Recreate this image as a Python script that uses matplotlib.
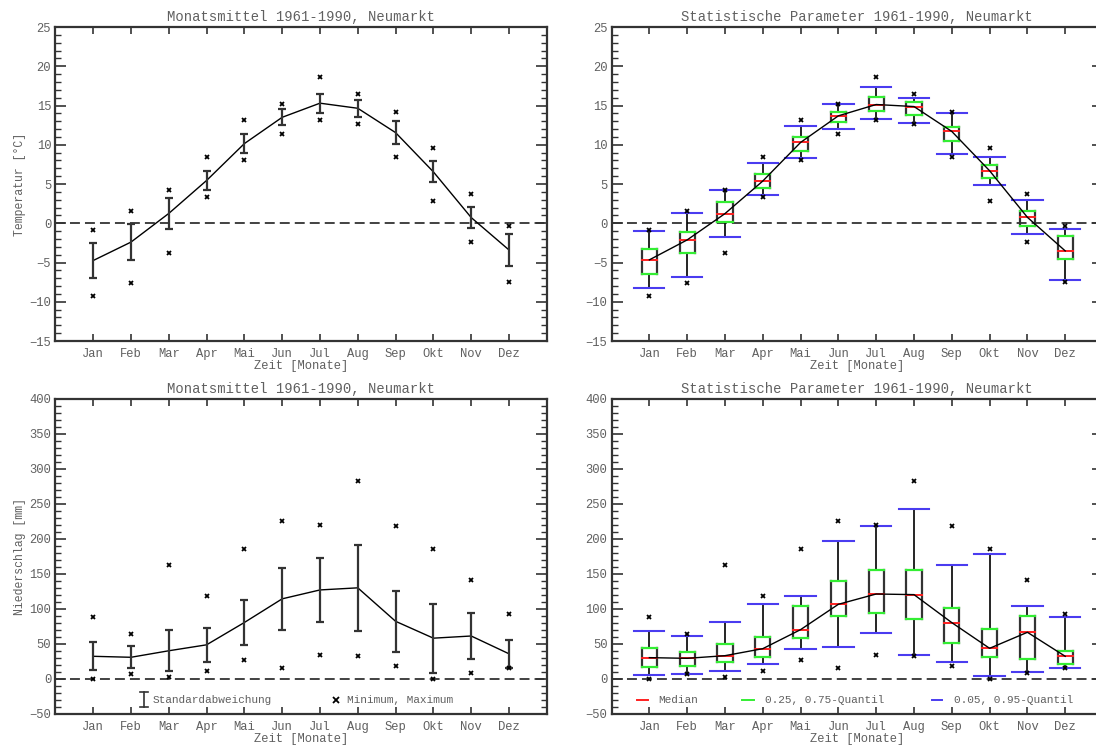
import numpy as np
import matplotlib
matplotlib.use('Agg')
import matplotlib.pyplot as plt
from matplotlib.ticker import MultipleLocator

plt.rcParams['font.family'] = ['Liberation Mono', 'DejaVu Sans Mono']

# Monthly statistics 1961-1990, station Neumarkt
months = ['Jan', 'Feb', 'Mar', 'Apr', 'Mai', 'Jun', 'Jul', 'Aug', 'Sep', 'Okt', 'Nov', 'Dez']

# Temperature [°C]
tempMean = [-4.75, -2.4, 1.25, 5.45, 10.15, 13.5, 15.3, 14.65, 11.55, 6.55, 0.73, -3.4]
tempStd = [2.25, 2.3, 1.95, 1.25, 1.25, 1.0, 1.2, 1.05, 1.45, 1.35, 1.37, 2.0]
tempMin = [-9.3, -7.55, -3.85, 3.4, 8.05, 11.4, 13.1, 12.6, 8.4, 2.8, -2.4, -7.5]
tempMax = [-0.9, 1.55, 4.2, 8.5, 13.1, 15.25, 18.65, 16.5, 14.2, 9.65, 3.7, -0.35]
tempMedian = [-4.66, -2.12, 1.23, 5.38, 10.3, 13.69, 15.13, 14.87, 11.7, 6.69, 0.76, -3.52]
tempQ25 = [-6.4, -3.81, 0.17, 4.49, 9.24, 12.84, 14.32, 13.8, 10.5, 5.72, -0.3, -4.58]
tempQ75 = [-3.26, -1.06, 2.71, 6.27, 10.93, 14.2, 16.06, 15.5, 12.25, 7.37, 1.57, -1.61]
tempQ05 = [-8.26, -6.86, -1.78, 3.6, 8.35, 12.0, 13.26, 12.75, 8.77, 4.83, -1.36, -7.29]
tempQ95 = [-0.97, 1.27, 4.19, 7.71, 12.4, 15.17, 17.4, 16.0, 14.07, 8.43, 3.0, -0.72]

# Precipitation [mm]
precMean = [32.4, 31.0, 40.3, 48.8, 80.7, 114.5, 127.2, 130.2, 82.4, 58.3, 61.4, 36.0]
precStd = [20.0, 15.75, 29.25, 24.5, 31.7, 44.0, 45.2, 61.2, 43.4, 49.3, 32.4, 20.2]
precMin = [0.0, 6.7, 2.4, 11.4, 27.6, 16.2, 34.8, 33.3, 18.6, 0.5, 9.0, 15.2]
precMax = [89.0, 64.8, 162.9, 119.0, 185.7, 225.0, 219.5, 283.3, 219.0, 186.2, 141.9, 93.3]
precMedian = [30.5, 29.5, 33.3, 43.3, 70.5, 106.7, 121.4, 120.5, 80.5, 43.8, 66.7, 32.4]
precQ25 = [17.1, 18.6, 24.3, 31.0, 58.6, 89.5, 94.8, 86.2, 51.9, 31.0, 29.0, 21.4]
precQ75 = [44.8, 39.0, 49.5, 59.5, 103.8, 139.5, 156.2, 155.2, 101.4, 71.0, 89.5, 40.0]
precQ05 = [5.7, 7.6, 11.0, 21.9, 42.9, 45.7, 65.2, 33.8, 24.3, 4.8, 10.5, 15.2]
precQ95 = [68.6, 62.0, 82.0, 106.7, 118.0, 197.6, 218.0, 242.9, 162.9, 178.0, 104.3, 89.0]

titleMean = 'Monatsmittel 1961-1990, Neumarkt'
titleStat = 'Statistische Parameter 1961-1990, Neumarkt'

TEXT = '#606060'
INK = '#333333'
RED = '#ff2020'
GREEN = '#33ee33'
BLUE = '#4a3cf0'


# Common frame: IDL-like inward ticks on all four sides, monospace labels
def styleAxes(ax, ylim, major, minor, title, ylabel=None):
    ax.set_xlim(0, 13)
    ax.set_ylim(*ylim)
    ax.set_xticks(np.arange(1, 13))
    ax.set_xticklabels(months)
    ax.yaxis.set_major_locator(MultipleLocator(major))
    ax.yaxis.set_minor_locator(MultipleLocator(minor))
    ax.tick_params(axis='both', which='both', direction='in', top=True, right=True,
                   colors=INK, labelcolor=TEXT, labelsize=8.7)
    ax.tick_params(axis='y', which='major', length=8, width=1.2, pad=3)
    ax.tick_params(axis='y', which='minor', length=4, width=1.0)
    ax.tick_params(axis='x', which='major', length=5, width=1.2, pad=5)
    for s in ax.spines.values():
        s.set_color(INK)
        s.set_linewidth(1.6)
    ax.set_title(title, fontsize=10, color=TEXT, pad=4)
    ax.set_xlabel('Zeit [Monate]', fontsize=8.7, color=TEXT, labelpad=0)
    if ylabel:
        ax.set_ylabel(ylabel, fontsize=8.3, color=TEXT, labelpad=2.5)
    ax.axhline(0, color=INK, lw=1.3, dashes=(5.5, 2.8), zorder=1)


# Mean with standard deviation plus min/max crosses
def plotMean(ax, mean, std, lo, hi):
    x = np.arange(1, 13)
    ax.plot(x, mean, color='black', lw=1.0, zorder=3)
    ax.errorbar(x, mean, yerr=std, fmt='none', ecolor=INK, elinewidth=1.6,
                capsize=3, capthick=1.6, zorder=3)
    ax.plot(x, lo, 'x', color='black', ms=3.5, mew=1.3, zorder=4)
    ax.plot(x, hi, 'x', color='black', ms=3.5, mew=1.3, zorder=4)


# Box plot built by hand: quartile box, median, 5%/95% whiskers
def plotBoxes(ax, med, q25, q75, q05, q95, lo, hi):
    x = np.arange(1, 13)
    bw = 0.2
    ww = 0.4
    for i in range(12):
        xi = x[i]
        ax.plot([xi, xi], [q05[i], q25[i]], color='black', lw=1.2, zorder=2)
        ax.plot([xi, xi], [q75[i], q95[i]], color='black', lw=1.2, zorder=2)
        ax.plot([xi - bw, xi - bw], [q25[i], q75[i]], color=INK, lw=1.6, zorder=2)
        ax.plot([xi + bw, xi + bw], [q25[i], q75[i]], color=INK, lw=1.6, zorder=2)
        ax.plot([xi - bw, xi + bw], [q25[i], q25[i]], color=GREEN, lw=1.6, zorder=3)
        ax.plot([xi - bw, xi + bw], [q75[i], q75[i]], color=GREEN, lw=1.6, zorder=3)
        ax.plot([xi - bw, xi + bw], [med[i], med[i]], color=RED, lw=1.4, zorder=3)
        ax.plot([xi - ww, xi + ww], [q05[i], q05[i]], color=BLUE, lw=1.5, zorder=3)
        ax.plot([xi - ww, xi + ww], [q95[i], q95[i]], color=BLUE, lw=1.5, zorder=3)
    ax.plot(x, med, color='black', lw=1.0, zorder=4)
    ax.plot(x, lo, 'x', color='black', ms=3.5, mew=1.3, zorder=5)
    ax.plot(x, hi, 'x', color='black', ms=3.5, mew=1.3, zorder=5)


fig = plt.figure(figsize=(10.96, 7.47), dpi=100)
axW = 0.4484
axTL = fig.add_axes([0.0505, 0.5435, axW, 0.4203])
axTR = fig.add_axes([0.558, 0.5435, axW, 0.4203])
axBL = fig.add_axes([0.0505, 0.0442, axW, 0.4217])
axBR = fig.add_axes([0.558, 0.0442, axW, 0.4217])

styleAxes(axTL, (-15, 25), 5, 1, titleMean, 'Temperatur [°C]')
styleAxes(axTR, (-15, 25), 5, 1, titleStat)
styleAxes(axBL, (-50, 400), 50, 10, titleMean, 'Niederschlag [mm]')
styleAxes(axBR, (-50, 400), 50, 10, titleStat)

plotMean(axTL, tempMean, tempStd, tempMin, tempMax)
plotBoxes(axTR, tempMedian, tempQ25, tempQ75, tempQ05, tempQ95, tempMin, tempMax)
plotMean(axBL, precMean, precStd, precMin, precMax)
plotBoxes(axBR, precMedian, precQ25, precQ75, precQ05, precQ95, precMin, precMax)

# Legend row of the precipitation mean panel
tr = axBL.transAxes
ly = 0.0456
axBL.plot([0.18, 0.18], [0.022, 0.071], color=INK, lw=1.2, transform=tr)
axBL.plot([0.172, 0.188], [0.071, 0.071], color=INK, lw=1.2, transform=tr)
axBL.plot([0.172, 0.188], [0.022, 0.022], color=INK, lw=1.2, transform=tr)
axBL.text(0.198, ly, 'Standardabweichung', transform=tr, fontsize=8, color=TEXT, va='center')
axBL.plot([0.5715], [ly], 'x', color='black', ms=5, mew=1.3, transform=tr)
axBL.text(0.594, ly, 'Minimum, Maximum', transform=tr, fontsize=8, color=TEXT, va='center')

# Legend row of the precipitation box panel
tr = axBR.transAxes
for x0, x1, tx, col, lab in [(0.0515, 0.074, 0.095, RED, 'Median'),
                             (0.265, 0.29, 0.3115, GREEN, '0.25, 0.75-Quantil'),
                             (0.652, 0.673, 0.696, BLUE, '0.05, 0.95-Quantil')]:
    axBR.plot([x0, x1], [ly, ly], color=col, lw=1.4, transform=tr)
    axBR.text(tx, ly, lab, transform=tr, fontsize=8, color=TEXT, va='center')

fig.savefig('out.png', dpi=100)
